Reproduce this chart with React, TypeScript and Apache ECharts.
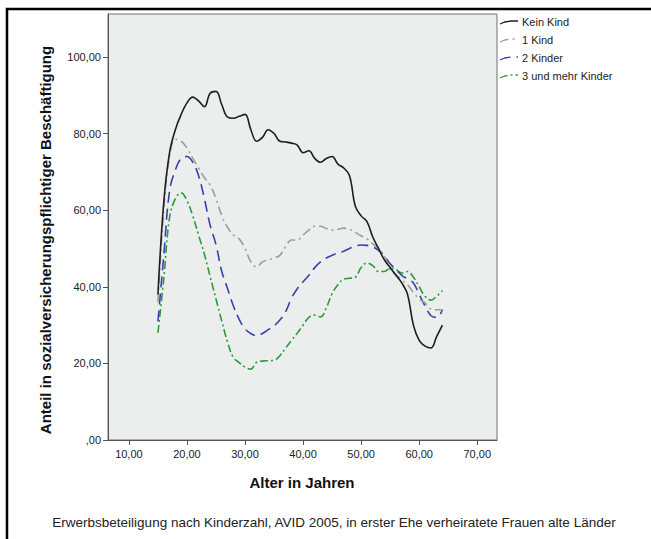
import React, { useEffect, useRef } from "react";
import * as echarts from "echarts";

const ages = [15,16,17,18,19,20,21,22,23,24,25,26,27,28,29,30,31,32,33,34,35,36,37,38,39,40,41,42,43,44,45,46,47,48,49,50,51,52,53,54,55,56,57,58,59,60,61,62,63,64];

const keinKind = [38,62,75,81,85,88,89.5,88.5,87,90.5,91,87.5,84.3,84,84.5,85,81,78,79,81,80,78,77.8,77.5,77,75,75.5,73.5,72.5,73.5,74,72,71,69,61,58.5,57,53,50,47,45,43,41,38,30,26,24.5,24,27,30];
const einKind = [36,60,74,78.5,78,76.2,73.5,71,68.5,66.5,63,58.5,55.5,53.5,52.5,50,46.5,45.2,46.5,47,47.5,48.2,50.5,52.2,52.2,53.5,54.8,55.8,55.8,55.2,54.8,55,55.3,55,54.2,53.3,52.5,51.2,50,48,44.5,43.2,41.8,40.5,38.5,36.8,35.8,34.2,34,34];
const zweiKinder = [31,48,65,70.5,73.5,74,72.5,69,63,56,51,44,39.5,35,31.5,29,27.8,27.2,27.8,28.8,29.8,31.3,33.5,37,39.5,41.3,43,45,46.5,47.5,48.2,48.8,49.3,50,50.6,50.9,50.8,50.4,49.5,48,46,44.5,43,42,41,38,35,32.5,32,34];
const dreiKinder = [28,42,58,63,64.5,62.5,58.5,53.5,48.5,42.6,36.8,31,25.5,21.5,20.2,19,18.5,20.3,20.6,20.7,20.8,22,24,26,27.9,30,32,32.6,32.1,34.5,38.2,40.5,42,42.2,42.5,45,46.2,45.5,44,44,44.8,44.5,43.6,44,42.5,40,37.5,36.5,37.5,39];

const seriesNames = ["Kein Kind", "1 Kind", "2 Kinder", "3 und mehr Kinder"];
const xTicks = [10, 20, 30, 40, 50, 60, 70];
const yTicks = [0, 20, 40, 60, 80, 100];

const FONT = "'Liberation Sans', Arial, sans-serif";

const fmt = (v: number) => {
  const s = v.toFixed(2).replace(".", ",");
  return v === 0 ? ",00" : s;
};

export default function App() {
  const ref = useRef<HTMLDivElement>(null);
  useEffect(() => {
    if (!ref.current) return;
    const chart = echarts.init(ref.current, undefined, { renderer: "svg" });
    const pair = (vals: number[]) => ages.map((a, i) => [a, vals[i]]);
    const styles = [
      { color: "#1e1e1e", type: "solid" as any, width: 1.6 },
      { color: "#9c9c9c", type: [9, 4, 2, 4] as any, width: 1.6 },
      { color: "#3743a8", type: [11, 6] as any, width: 1.6 },
      { color: "#2b9a3d", type: [8, 3, 2, 3] as any, width: 1.6 },
    ];
    const datasets = [keinKind, einKind, zweiKinder, dreiKinder];
    const legendY = [22, 40, 58, 76];
    const legendGraphics: any[] = [];
    seriesNames.forEach((n, i) => {
      const y = legendY[i];
      legendGraphics.push({
        type: "polyline",
        shape: { points: [[500, y + 2], [505, y], [511, y - 1], [518, y - 1]] },
        style: { stroke: styles[i].color, lineWidth: 1.3, fill: null, lineDash: i === 0 ? null : styles[i].type },
      });
      legendGraphics.push({
        type: "text",
        x: 522,
        y: y,
        style: { text: n, font: `11px ${FONT}`, fill: "#222", textVerticalAlign: "middle" },
      });
    });
    chart.setOption({
      animation: false,
      backgroundColor: "#ffffff",
      grid: {
        left: 108,
        top: 14,
        width: 389,
        height: 426,
        show: true,
        backgroundColor: "#eceeed",
        borderColor: "#707070",
        borderWidth: 1,
      },
      xAxis: {
        type: "value",
        min: 6.4,
        max: 73.4,
        splitLine: { show: false },
        axisLine: { show: true, lineStyle: { color: "#555", width: 1 } },
        axisTick: { show: true, length: 5, lineStyle: { color: "#555" }, customValues: xTicks },
        axisLabel: { color: "#222", fontSize: 11, fontFamily: FONT, margin: 8, customValues: xTicks, formatter: (v: number) => fmt(v) },
      },
      yAxis: {
        type: "value",
        min: 0,
        max: 111.2,
        splitLine: { show: false },
        axisLine: { show: true, lineStyle: { color: "#555", width: 1 } },
        axisTick: { show: true, length: 5, lineStyle: { color: "#555" }, customValues: yTicks },
        axisLabel: { color: "#222", fontSize: 11, fontFamily: FONT, margin: 7, customValues: yTicks, formatter: (v: number) => fmt(v) },
      },
      graphic: [
        {
          type: "polyline",
          shape: { points: [[7, 539], [7, 9], [651, 9]] },
          style: { stroke: "#000", lineWidth: 2.5, fill: null },
        },
        {
          type: "text",
          x: 45,
          y: 240,
          rotation: Math.PI / 2,
          style: {
            text: "Anteil in sozialversicherungspflichtiger Beschäftigung",
            font: `bold 15px ${FONT}`,
            fill: "#111",
            textAlign: "center",
            textVerticalAlign: "middle",
          },
        },
        {
          type: "text",
          x: 302,
          y: 482,
          style: { text: "Alter in Jahren", font: `bold 15px ${FONT}`, fill: "#111", textAlign: "center", textVerticalAlign: "middle" },
        },
        {
          type: "text",
          x: 334,
          y: 522,
          style: {
            text: "Erwerbsbeteiligung nach Kinderzahl, AVID 2005, in erster Ehe verheiratete Frauen alte Länder",
            font: `13.5px ${FONT}`,
            fill: "#222",
            textAlign: "center",
            textVerticalAlign: "middle",
          },
        },
        ...legendGraphics,
      ],
      series: datasets.map((d, i) => ({
        name: seriesNames[i],
        type: "line",
        data: pair(d),
        smooth: 0.4,
        showSymbol: false,
        symbol: "none",
        lineStyle: styles[i],
        z: 10 - i,
      })),
    });
    return () => chart.dispose();
  }, []);
  return <div ref={ref} style={{ width: 651, height: 539, position: "absolute", left: 0, top: 0 }} />;
}
